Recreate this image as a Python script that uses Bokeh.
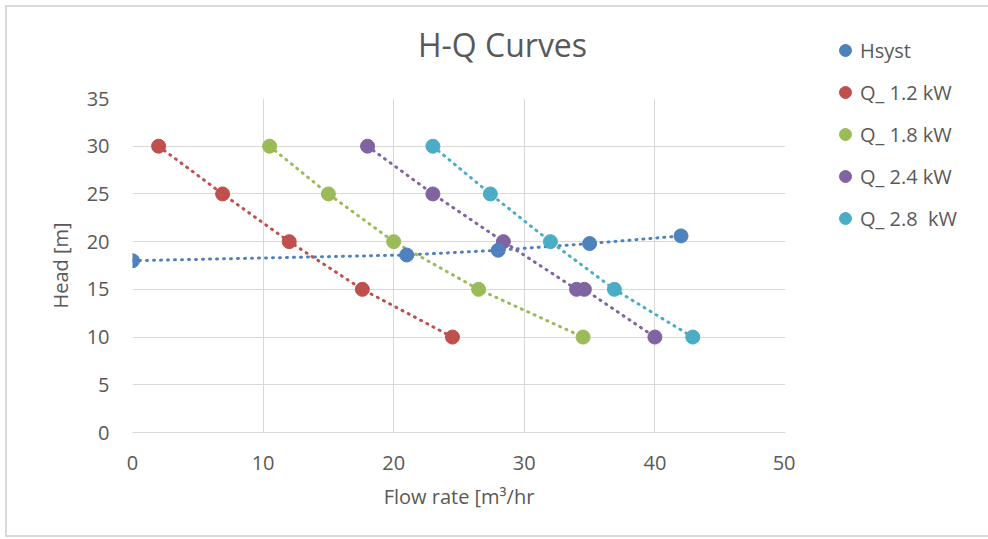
from bokeh.plotting import figure
from bokeh.models import Legend, LegendItem, Range1d, FixedTicker, Label
from bokeh.layouts import row, column
from bokeh.embed import file_html
from bokeh.resources import INLINE

# ---- data ----
hsyst_q = [0, 21, 28, 35, 42]
hsyst_h = [18.0, 18.6, 19.1, 19.8, 20.6]

q12_q = [2, 6.9, 12, 17.6, 24.5]
q12_h = [30, 25, 20, 15, 10]

q18_q = [10.5, 15, 20, 26.5, 34.5]
q18_h = [30, 25, 20, 15, 10]

q24_q = [18, 23, 28.4, 34, 34.6, 40]
q24_h = [30, 25, 20, 15, 15, 10]

q28_q = [23, 27.4, 32, 36.9, 42.9]
q28_h = [30, 25, 20, 15, 10]

series_names = ["Hsyst", "Q_ 1.2 kW", "Q_ 1.8 kW", "Q_ 2.4 kW", "Q_ 2.8  kW"]
series_colors = ["#4F81BD", "#C0504D", "#9BBB59", "#8064A2", "#4BACC6"]
x_ticks = [0, 10, 20, 30, 40, 50]
y_ticks = [0, 5, 10, 15, 20, 25, 30, 35]
title_text = "H-Q Curves"

series = [(hsyst_q, hsyst_h), (q12_q, q12_h), (q18_q, q18_h), (q24_q, q24_h), (q28_q, q28_h)]

FONT = "Open Sans"
GREY = "#595959"

# ---------- title strip ----------
pt = figure(width=788, height=60, output_backend="svg", toolbar_location=None,
            x_axis_type=None, y_axis_type=None, x_range=Range1d(0, 1), y_range=Range1d(0, 1),
            min_border=0, min_border_left=0, min_border_right=0, min_border_top=0, min_border_bottom=0)
pt.outline_line_color = None
pt.add_layout(Label(x=370, y=23, x_units="screen", y_units="screen", text=title_text,
                    text_align="center", text_baseline="middle", text_font=FONT,
                    text_font_size="32px", text_color=GREY))

# ---------- main plot ----------
p = figure(width=788, height=468, output_backend="svg", toolbar_location=None,
           x_range=Range1d(0, 50), y_range=Range1d(0, 35),
           min_border_left=125, min_border_right=10, min_border_top=31, min_border_bottom=103)
p.outline_line_color = None

for ax in (p.xaxis[0], p.yaxis[0]):
    ax.major_tick_line_color = None
    ax.minor_tick_line_color = None
    ax.major_label_text_font = FONT
    ax.major_label_text_font_size = "20px"
    ax.major_label_text_color = GREY
    ax.axis_label_text_font = FONT
    ax.axis_label_text_font_size = "20px"
    ax.axis_label_text_font_style = "normal"
    ax.axis_label_text_color = GREY

p.xaxis.ticker = FixedTicker(ticks=x_ticks)
p.yaxis.ticker = FixedTicker(ticks=y_ticks)
p.xaxis.axis_line_color = "#d9d9d9"
p.yaxis.axis_line_color = None
p.xaxis.axis_label = "Flow rate [m³/hr"
p.yaxis.axis_label = "Head [m]"
p.xaxis.major_label_standoff = 17
p.yaxis.major_label_standoff = 17
p.xaxis.axis_label_standoff = 10
p.yaxis.axis_label_standoff = 10

p.xgrid.ticker = FixedTicker(ticks=x_ticks)
p.ygrid.ticker = FixedTicker(ticks=y_ticks)
p.grid.grid_line_color = "#d9d9d9"
p.grid.grid_line_width = 1

for (xs, ys), c in zip(series, series_colors):
    p.line(xs, ys, line_color=c, line_width=3, line_dash="1 6", line_cap="round")

for i in [1, 2, 3, 4, 0]:
    xs, ys = series[i]
    p.scatter(xs, ys, size=14, fill_color=series_colors[i], line_color=series_colors[i])

# ---------- legend strip ----------
pl = figure(width=193, height=528, output_backend="svg", toolbar_location=None,
            x_axis_type=None, y_axis_type=None, x_range=Range1d(0, 50), y_range=Range1d(0, 35),
            min_border=0, min_border_left=0, min_border_right=0, min_border_top=0, min_border_bottom=0)
pl.outline_line_color = None
leg_r = []
for (xs, ys), c in zip(series, series_colors):
    leg_r.append(pl.scatter(xs, ys, size=14, fill_color=c, line_color=c, visible=False))

legend = Legend(items=[LegendItem(label=n, renderers=[r]) for n, r in zip(series_names, leg_r)],
                location=(35, 302))
legend.padding = 0
legend.margin = 0
legend.spacing = 12
legend.glyph_width = 30
legend.glyph_height = 30
legend.label_standoff = 0
legend.label_text_font = FONT
legend.label_text_font_size = "20px"
legend.label_text_color = GREY
legend.background_fill_alpha = 0
legend.border_line_color = None
pl.add_layout(legend, "center")

layout = row(column(pt, p, spacing=0), pl, spacing=0)
layout.styles = {"margin-left": "5px", "margin-top": "5px",
                 "border-left": "2px solid #d9d9d9", "border-top": "2px solid #d9d9d9",
                 "border-bottom": "2px solid #d9d9d9"}

open("out.html", "w").write(file_html(layout, INLINE))
